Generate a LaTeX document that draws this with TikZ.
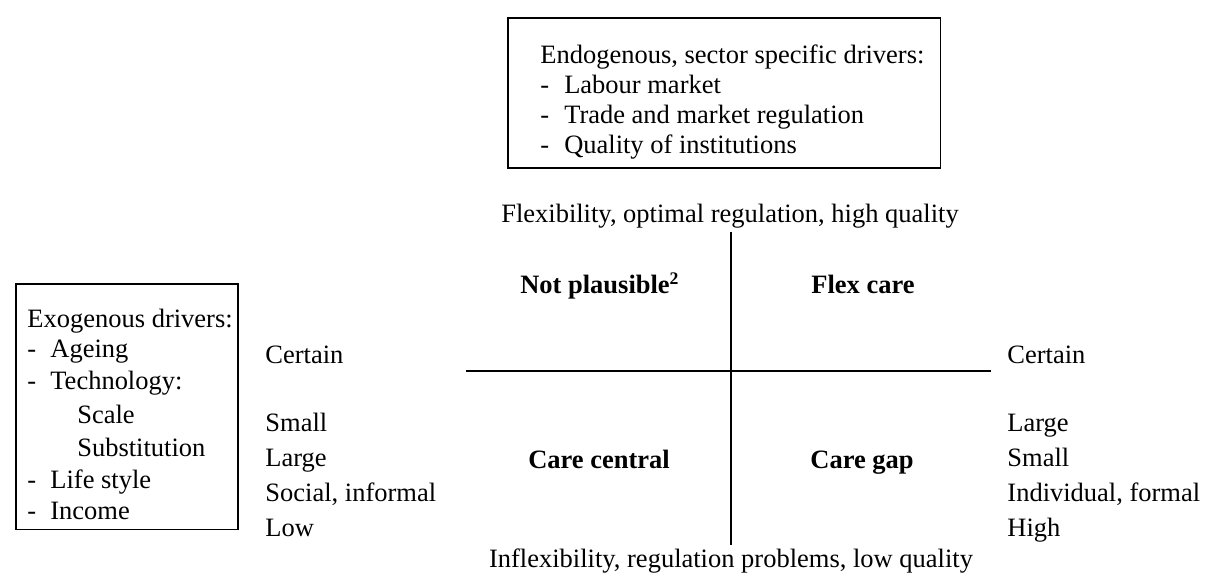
\documentclass[tikz,border=0pt]{standalone}
\usepackage{fontspec}
\setmainfont{Liberation Serif}
\usetikzlibrary{positioning}

\begin{document}
\begin{tikzpicture}[x=0.453pt,y=-0.453pt,
      every node/.style={inner sep=0pt,font=\fontsize{12}{14}\selectfont},
      textbox/.style={draw,line width=0.7pt,anchor=north west},
      quadrant/.style={anchor=base,font=\fontsize{12}{14}\selectfont\bfseries},
      axislabel/.style={anchor=base},
      level/.style={anchor=base west},
      axis/.style={line width=0.9pt}]

  \useasboundingbox (0,0) rectangle (1206,576);

  % endogenous drivers (top box)
  \node[textbox,minimum width=196.1pt,minimum height=68pt] (endo) at (507,17) {};
  \foreach \txt/\yy [count=\i] in {{Endogenous, sector specific drivers:}/64,
      {\makebox[10.8pt][l]{-}Labour market}/94,
      {\makebox[10.8pt][l]{-}Trade and market regulation}/124,
      {\makebox[10.8pt][l]{-}Quality of institutions}/154}
    \node[level] (endo-\i) at (540,\yy) {\txt};

  % exogenous drivers (left box)
  \node[textbox,minimum width=100.6pt,minimum height=111.4pt] (exo) at (15,283) {};
  \foreach \txt/\yy [count=\i] in {{Exogenous drivers:}/328,
      {\makebox[10.4pt][l]{-}Ageing}/358,
      {\makebox[10.4pt][l]{-}Technology:}/390,
      {\hspace*{22.6pt}Scale}/424,
      {\hspace*{22.6pt}Substitution}/457,
      {\makebox[10.4pt][l]{-}Life style}/489,
      {\makebox[10.4pt][l]{-}Income}/520}
    \node[level] (exo-\i) at (27,\yy) {\txt};

  % axes
  \coordinate (north) at (731,232);
  \coordinate (south) at (731,545);
  \coordinate (west) at (466,371);
  \coordinate (east) at (991,371);
  \draw[axis] (north) -- (south);
  \draw[axis] (west) -- (east);

  \node[axislabel] (flex) at (730,223) {Flexibility, optimal regulation, high quality};
  \node[axislabel] (inflex) at (731,568) {Inflexibility, regulation problems, low quality};

  % scenarios
  \node[quadrant] (notplausible) at (600,294) {Not plausible\textsuperscript{2}};
  \node[quadrant] (flexcare) at (863,294) {Flex care};
  \node[quadrant] (carecentral) at (599,469) {Care central};
  \node[quadrant] (caregap) at (862,469) {Care gap};

  % outcomes on either side
  \foreach \txt/\yy [count=\i] in {Certain/364, Small/432, Large/467,
      {Social, informal}/502, Low/537}
    \node[level] (lo-\i) at (265,\yy) {\txt};
  \foreach \txt/\yy [count=\i] in {Certain/364, Large/432, Small/467,
      {Individual, formal}/502, High/537}
    \node[level] (hi-\i) at (1007,\yy) {\txt};
\end{tikzpicture}
\end{document}
